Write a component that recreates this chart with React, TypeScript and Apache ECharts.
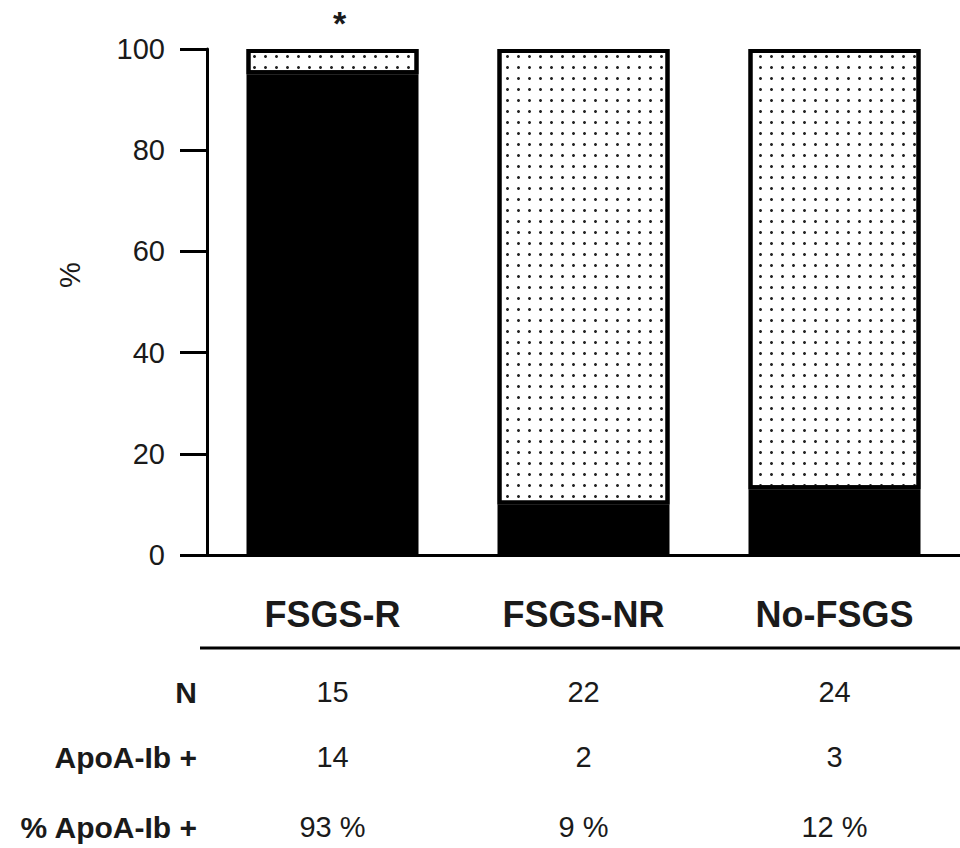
import React, { useEffect, useRef } from "react";
import * as echarts from "echarts";

const categories = ["FSGS-R", "FSGS-NR", "No-FSGS"];
const positivePct = [95, 10, 13];
const negativePct = [5, 90, 87];
const nValues = ["15", "22", "24"];
const apoValues = ["14", "2", "3"];
const pctValues = ["93 %", "9 %", "12 %"];
const rowLabels = ["N", "ApoA-Ib +", "% ApoA-Ib +"];
const significance = ["*", "", ""];
const yTicks = { min: 0, max: 100, interval: 20 };

const TXT = "#1a1a1a";
const FONT = "Liberation Sans, Arial, sans-serif";

export default function App() {
  const ref = useRef<HTMLDivElement>(null);
  useEffect(() => {
    if (!ref.current) return;
    const chart = echarts.init(ref.current, null, { renderer: "svg" });
    const gridLeft = 207;
    const axisY = 555;
    const tableAxis = (vals: string[], margin: number) => ({
      type: "category",
      data: categories,
      gridIndex: 0,
      position: "bottom",
      axisLine: { show: false },
      axisTick: { show: false },
      axisLabel: {
        margin,
        verticalAlign: "middle",
        fontSize: 29,
        color: TXT,
        fontFamily: FONT,
        formatter: (_v: string, i: number) => vals[i],
      },
    });
    chart.setOption({
      animation: false,
      grid: { left: gridLeft, right: 0, top: 49, bottom: 848 - axisY },
      xAxis: [
        {
          type: "category",
          data: categories,
          axisLine: { show: true, lineStyle: { color: "#000", width: 3 } },
          axisTick: { show: false },
          axisLabel: {
            margin: 59,
            verticalAlign: "middle",
            fontSize: 36,
            fontWeight: "bold",
            color: TXT,
            fontFamily: FONT,
          },
        },
        tableAxis(nValues, 137),
        tableAxis(apoValues, 202),
        tableAxis(pctValues, 272),
      ],
      yAxis: {
        type: "value",
        min: yTicks.min,
        max: yTicks.max,
        interval: yTicks.interval,
        axisLine: { show: true, lineStyle: { color: "#000", width: 3 } },
        axisTick: { show: true, length: 27, lineStyle: { color: "#000", width: 3 } },
        axisLabel: { fontSize: 29, color: TXT, fontFamily: FONT, margin: 42 },
        splitLine: { show: false },
      },
      series: [
        {
          type: "bar",
          stack: "s",
          data: positivePct,
          barWidth: 172,
          itemStyle: { color: "#000", borderColor: "#000", borderWidth: 4 },
        },
        {
          type: "bar",
          stack: "s",
          data: negativePct,
          barWidth: 172,
          itemStyle: {
            color: "#fff",
            borderColor: "#000",
            borderWidth: 4,
            decal: {
              symbol: "circle",
              symbolSize: 1,
              color: "#222",
              backgroundColor: "#fff",
              dashArrayX: [2.6, 7.4],
              dashArrayY: [2.6, 7.4],
              rotation: 0,
            },
          },
          label: {
            show: true,
            position: "top",
            distance: 9,
            offset: [7, 0],
            formatter: (p: any) => significance[p.dataIndex],
            fontSize: 34,
            fontWeight: "bold",
            color: TXT,
            fontFamily: FONT,
          },
        },
      ],
      graphic: [
        {
          type: "line",
          shape: { x1: 200, y1: 648, x2: 960, y2: 648 },
          style: { stroke: "#000", lineWidth: 3 },
        },
        {
          type: "text",
          x: 70,
          y: 275,
          rotation: Math.PI / 2,
          style: {
            text: "%",
            align: "center",
            verticalAlign: "middle",
            fontSize: 29,
            fill: TXT,
            fontFamily: FONT,
          },
        },
        ...rowLabels.map((t, i) => ({
          type: "text",
          x: 197,
          y: [692, 757, 827][i],
          style: {
            text: t,
            align: "right",
            verticalAlign: "middle",
            fontSize: 30,
            fontWeight: "bold",
            fill: TXT,
            fontFamily: FONT,
          },
        })),
      ],
    });
    return () => chart.dispose();
  }, []);
  return <div ref={ref} style={{ width: 960, height: 848, position: "absolute", left: 0, top: 0 }} />;
}
